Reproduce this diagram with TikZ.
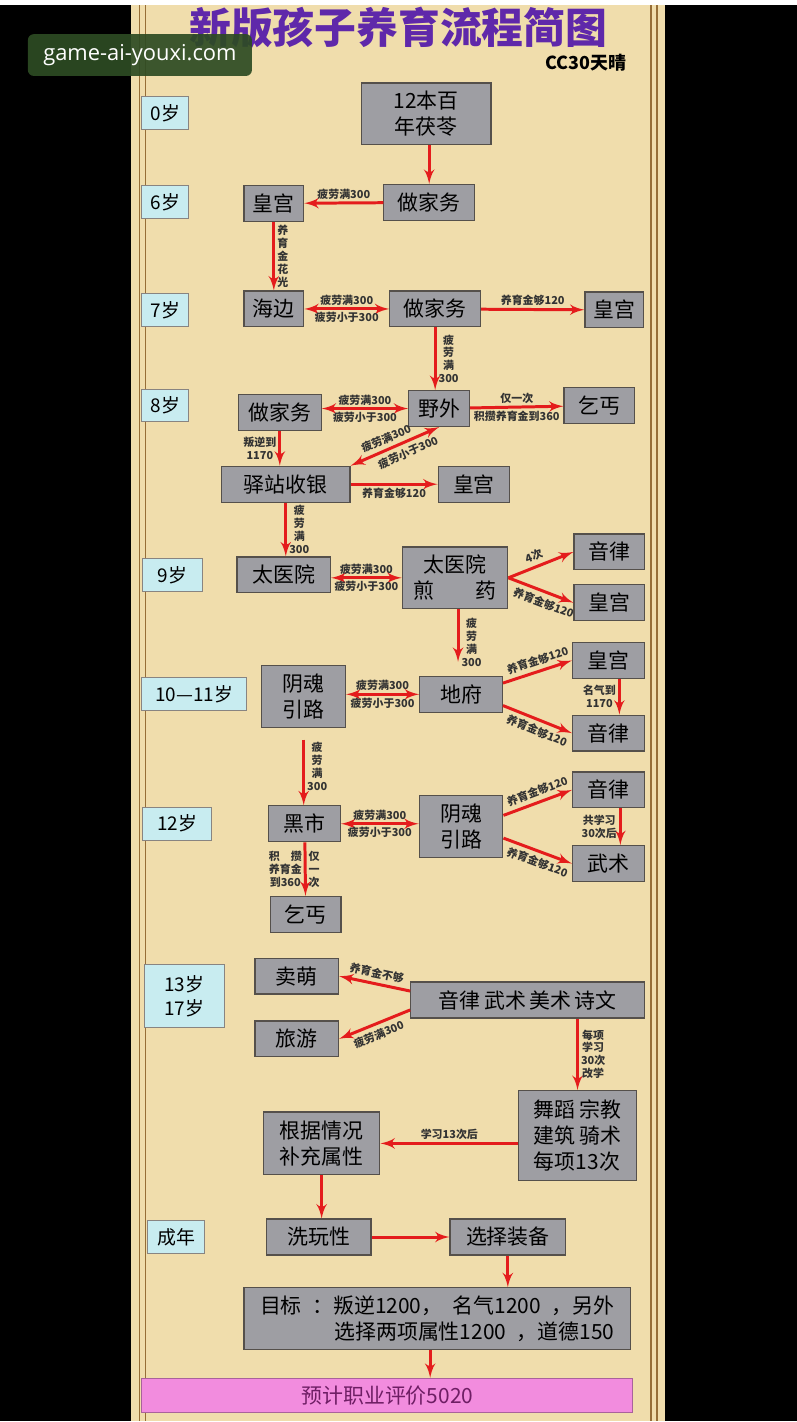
\documentclass[tikz,border=0pt]{standalone}
\usepackage{fontspec}
\setmainfont{Noto Sans CJK SC}
\newfontfamily\webfont{Open Sans}
\usetikzlibrary{arrows}
\definecolor{parch}{RGB}{240,221,172}
\definecolor{boxgray}{RGB}{158,158,163}
\definecolor{boxline}{RGB}{85,80,75}
\definecolor{agecol}{RGB}{200,236,240}
\definecolor{arrowred}{RGB}{228,28,28}
\definecolor{titlepurple}{RGB}{95,40,170}
\definecolor{pinkbox}{RGB}{242,140,222}
\definecolor{pinktext}{RGB}{110,30,100}
\definecolor{framecol}{RGB}{150,110,55}
\definecolor{markgreen}{RGB}{45,75,35}
\begin{document}
\begin{tikzpicture}
	[x=0.5pt,y=-0.5pt,
	box/.style={draw=boxline,fill=boxgray,line width=0.6pt,inner sep=1pt,minimum height=18pt,align=center,font=\fontsize{10.5}{13}\selectfont},
	age/.style={draw=boxline!70,fill=agecol,line width=0.5pt,inner sep=1pt,minimum height=16.5pt,align=center,font=\fontsize{9.5}{12}\selectfont},
	edge/.style={->,>=latex',draw=arrowred,line width=1.5pt},
	both/.style={<->,>=latex',draw=arrowred,line width=1.5pt},
	lbl/.style={font=\bfseries\fontsize{5.5}{6.5}\selectfont,inner sep=1pt,align=center,text=black!80}]
	% paper
	\fill[black] (0,0) rectangle (800,1422);
	\fill[parch] (132,0) rectangle (668,1422);
	\draw[framecol,line width=0.8pt] (140,0) -- (140,1422) (146,0) -- (146,1422) (654,0) -- (654,1422) (660,0) -- (660,1422);
	
	\node[font=\bfseries\fontsize{21}{24}\selectfont,text=titlepurple] (title) at (400,22) {新版孩子养育流程简图};
	\node[font=\bfseries\fontsize{9}{10}\selectfont] (author) at (588,58) {CC30天晴};
	\node[fill=markgreen,fill opacity=0.92,text opacity=1,text=white,rounded corners=3pt,minimum width=112.5pt,minimum height=21pt,font=\webfont\fontsize{11}{13}\selectfont] (mark) at (140.5,50) {game-ai-youxi.com};
	
	% ages
	\node[age,minimum width=23.5pt] (age0) at (166,108) {0岁};
	\node[age,minimum width=23.5pt] (age6) at (166,198) {6岁};
	\node[age,minimum width=23.5pt] (age7) at (166,306) {7岁};
	\node[age,minimum width=23.5pt] (age8) at (166,402) {8岁};
	\node[age,minimum width=30pt] (age9) at (173,572) {9岁};
	\node[age,minimum width=52.5pt] (age10) at (195,692) {10—11岁};
	\node[age,minimum width=34.5pt] (age12) at (178,822) {12岁};
	\node[age,minimum width=40pt,minimum height=32pt] (age13) at (185,995) {13岁\\17岁};
	\node[age,minimum width=28.5pt] (adult) at (177,1237) {成年};
	
	% boxes
	\node[box,minimum width=65pt,minimum height=31pt] (fuling) at (428,109) {12本百\\年茯苓};
	\node[box,minimum width=30pt] (gong6) at (275,199) {皇宫};
	\node[box,minimum width=45.5pt] (zuo6) at (431,198) {做家务};
	\node[box,minimum width=30pt] (haibian) at (275,305) {海边};
	\node[box,minimum width=45.5pt] (zuo7) at (437,305) {做家务};
	\node[box,minimum width=29.5pt] (gong7) at (617,306) {皇宫};
	\node[box,minimum width=41.5pt] (zuo8) at (281,409) {做家务};
	\node[box,minimum width=30.5pt] (yewai) at (441,405) {野外};
	\node[box,minimum width=35.5pt] (qigai8) at (602,402) {乞丐};
	\node[box,minimum width=64.5pt] (yizhan) at (287,481) {驿站收银};
	\node[box,minimum width=36pt] (gong8) at (476,481) {皇宫};
	\node[box,minimum width=47pt] (taiyi) at (285,572) {太医院};
	\node[box,minimum width=53pt,minimum height=31pt] (jianyao) at (457,575) {太医院\\煎\hspace{2em}药};
	\node[box,minimum width=35.5pt] (yinlv9) at (612,549) {音律};
	\node[box,minimum width=35.5pt] (gong9) at (612,600) {皇宫};
	\node[box,minimum width=42pt,minimum height=31pt] (yinhun10) at (305,694) {阴魂\\引路};
	\node[box,minimum width=41.5pt] (difu) at (463,692) {地府};
	\node[box,minimum width=36pt] (gong10) at (611,658) {皇宫};
	\node[box,minimum width=36pt] (yinlv10) at (611,731) {音律};
	\node[box,minimum width=36pt] (heishi) at (306,822) {黑市};
	\node[box,minimum width=42pt,minimum height=31pt] (yinhun12) at (463,825) {阴魂\\引路};
	\node[box,minimum width=36pt] (yinlv12) at (611,788) {音律};
	\node[box,minimum width=36pt] (wushu) at (611,862) {武术};
	\node[box,minimum width=35.5pt] (qigai12) at (307,913) {乞丐};
	\node[box,minimum width=42pt] (maimeng) at (298,975) {卖萌};
	\node[box,minimum width=42pt] (lvyou) at (298,1038) {旅游};
	\node[box,minimum width=117.5pt] (yishu) at (530,999) {音律\,武术\,美术\,诗文};
	\node[box,minimum width=59pt,minimum height=45pt,align=left] (wudao) at (580,1135) {舞蹈\,宗教\\建筑\,骑术\\每项13次};
	\node[box,minimum width=58.5pt,minimum height=31.5pt] (genju) at (323,1143) {根据情况\\补充属性};
	\node[box,minimum width=52.5pt] (xiwan) at (320,1237) {洗玩性};
	\node[box,minimum width=58pt] (zhuangbei) at (510,1237) {选择装备};
	\node[box,minimum width=194pt,minimum height=31pt,align=right] (mubiao) at (439,1319) {目标\enspace：叛逆1200，\enspace 名气1200\enspace，另外\\选择两项属性1200\enspace，道德150};
	\node[box,fill=pinkbox,draw=pinkbox!70!black,minimum width=246.5pt,minimum height=17pt,text=pinktext] (pingjia) at (389,1396) {预计职业评价5020};
	
	% arrows
	\draw[edge] (fuling.south -| zuo6.north) -- (zuo6.north);
	\draw[edge] (zuo6) -- node[lbl,above] {疲劳满300} (gong6);
	\draw[edge] (gong6) -- node[lbl,right] {养\\育\\金\\花\\光} (haibian);
	\draw[both] (haibian) -- node[lbl,above] {疲劳满300} node[lbl,below] {疲劳小于300} (zuo7);
	\draw[edge] (zuo7) -- node[lbl,above] {养育金够120} (gong7);
	\draw[edge] (zuo7.south) -- node[lbl,right] {疲\\劳\\满\\300} (zuo7.south |- yewai.north);
	\draw[both] (zuo8.east |- yewai) -- node[lbl,above] {疲劳满300} node[lbl,below] {疲劳小于300} (yewai.west);
	\draw[edge] (yewai) -- node[lbl,above] {仅一次} node[lbl,below] {积攒养育金到360} (qigai8);
	\draw[edge] (zuo8.south) -- node[lbl,left] {叛逆到\\1170} (zuo8.south |- yizhan.north);
	\draw[both] (yizhan.north east) -- node[lbl,above=1pt,sloped,pos=0.45] {疲劳满300} node[lbl,below=1pt,sloped,pos=0.6] {疲劳小于300} (yewai.south);
	\draw[edge] (yizhan) -- node[lbl,below] {养育金够120} (gong8);
	\draw[edge] (yizhan.south) -- node[lbl,right] {疲\\劳\\满\\300} (yizhan.south |- taiyi.north);
	\draw[both] (taiyi.east |- jianyao) -- node[lbl,above] {疲劳满300} node[lbl,below] {疲劳小于300} (jianyao.west);
	\draw[edge] (jianyao.east) -- node[lbl,above=1pt,sloped,pos=0.45] {4次} (yinlv9.west);
	\draw[edge] (jianyao.east) -- node[lbl,below=1pt,sloped,pos=0.6] {养育金够120} (gong9.west);
	\draw[edge,shorten >=7pt] ([xshift=1.5pt]jianyao.south) -- node[lbl,right] {疲\\劳\\满\\300} ([xshift=1.5pt]jianyao.south |- difu.north);
	\draw[both] (yinhun10.east |- difu) -- node[lbl,above] {疲劳满300} node[lbl,below] {疲劳小于300} (difu.west);
	\draw[edge] (difu.15) -- node[lbl,above=1pt,sloped,pos=0.55] {养育金够120} (gong10.west);
	\draw[edge] (difu.-15) -- node[lbl,below=1pt,sloped,pos=0.55] {养育金够120} (yinlv10.west);
	\draw[edge] ([xshift=5.5pt]gong10.south) -- node[lbl,left] {名气到\\1170} ([xshift=5.5pt]yinlv10.north);
	\draw[edge,shorten <=6pt] (yinhun10.south) -- node[lbl,right] {疲\\劳\\满\\300} (yinhun10.south |- heishi.north);
	\draw[both] (heishi.east) -- node[lbl,above] {疲劳满300} node[lbl,below] {疲劳小于300} (heishi.east -| yinhun12.west);
	\draw[edge] (yinhun12.15) -- node[lbl,above=1pt,sloped,pos=0.55] {养育金够120} (yinlv12.west);
	\draw[edge] (yinhun12.-15) -- node[lbl,below=1pt,sloped,pos=0.55] {养育金够120} (wushu.west);
	\draw[edge] ([xshift=6pt]yinlv12.south) -- node[lbl,left] {共学习\\30次后} ([xshift=6pt]wushu.north);
	\draw[edge] (heishi) -- node[lbl,left] {积\quad 攒\\养育金\\到360} node[lbl,right] {仅\\一\\次} (qigai12);
	\draw[edge] ([yshift=4.5pt]yishu.west) -- node[lbl,above=1pt,sloped] {养育金不够} (maimeng.east);
	\draw[edge] ([yshift=-5pt]yishu.west) -- node[lbl,below=1pt,sloped] {疲劳满300} (lvyou.east);
	\draw[edge] (yishu.south -| wudao.north) -- node[lbl,right] {每项\\学习\\30次\\改学} (wudao.north);
	\draw[edge] (genju.east -| wudao.west) -- node[lbl,above] {学习13次后} (genju.east);
	\draw[edge] (genju.south) -- (genju.south |- xiwan.north);
	\draw[edge] (xiwan) -- (zhuangbei);
	\draw[edge] (zhuangbei.south) -- (zhuangbei.south |- mubiao.north);
	\draw[edge] ([xshift=-3.5pt]mubiao.south) -- ([xshift=-3.5pt]mubiao.south |- pingjia.north);
\end{tikzpicture}
\end{document}
